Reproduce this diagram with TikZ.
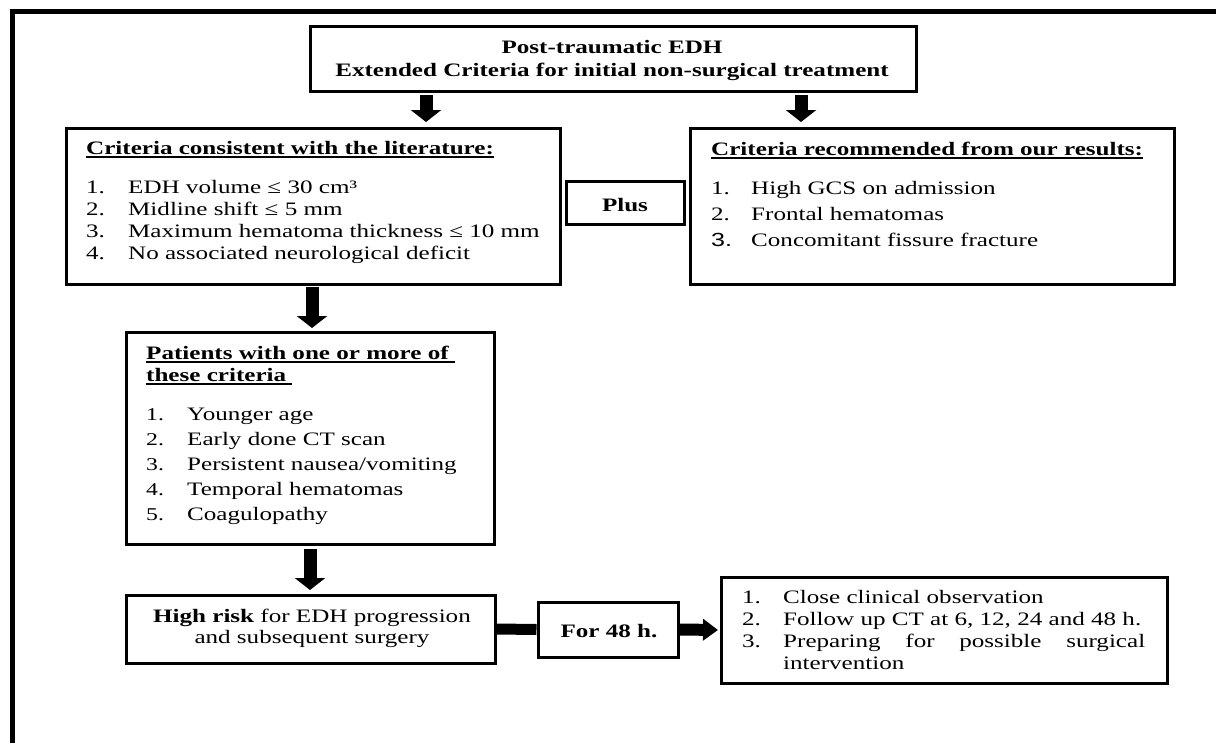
\documentclass[tikz,border=0pt]{standalone}
\usepackage{fontspec}
\setmainfont{Liberation Serif}[FakeStretch=1.32]
\newfontfamily\arialthree{Liberation Sans}[FakeStretch=1.32]
\usetikzlibrary{arrows.meta}
\newcommand\myul[1]{\setbox0\hbox{#1}\rlap{\rule[-3.5pt]{\wd0}{1.8pt}}\box0}
\begin{document}
\begin{tikzpicture}[x=1pt,y=-1pt,
  box/.style={draw, line width=3pt, inner sep=0pt},
  txt/.style={inner sep=0pt, anchor=base west, font=\fontsize{19}{22}\selectfont},
  btxt/.style={inner sep=0pt, anchor=base west, font=\fontsize{19}{22}\selectfont\bfseries},
  ctxt/.style={txt, anchor=base},
  cbtxt/.style={btxt, anchor=base},
  smalln/.style={inner sep=0pt, anchor=base west, font=\fontsize{18}{20}\selectfont},
  varrow/.style={line width=13pt, -{Triangle[width=30pt,length=12pt]}},
  harrow/.style={line width=12pt, -{Triangle[width=21pt,length=15pt]}},
  bar/.style={line width=11pt}
]
\useasboundingbox (0,0) rectangle (1216,742);
\fill[white] (0,0) rectangle (1216,742);
% outer frame (top and left visible)
\draw[line width=5pt] (1220,11) -- (12,11) -- (12,746);

% boxes
\node[box, minimum width=606pt, minimum height=65pt]  (title) at (613,58.5) {};
\node[box, minimum width=494pt, minimum height=156pt] (lit)   at (313,206)  {};
\node[box, minimum width=118pt, minimum height=43pt]  (plus)  at (625,202.5) {};
\node[box, minimum width=484pt, minimum height=156pt] (res)   at (932,206)  {};
\node[box, minimum width=368pt, minimum height=212pt] (pat)   at (310,438)  {};
\node[box, minimum width=369pt, minimum height=68pt]  (risk)  at (310.5,629) {};
\node[box, minimum width=140pt, minimum height=55pt]  (for)   at (608,629.5) {};
\node[box, minimum width=446pt, minimum height=106pt] (obs)   at (944,630)  {};

% title text
\node[cbtxt] (t1) at (612,53) {Post-traumatic EDH};
\node[cbtxt] (t2) at (612,76) {Extended Criteria for initial non-surgical treatment};

% literature criteria
\node[btxt] (lith) at (86,154) {\myul{Criteria consistent with the literature:}};
\node[txt] (l1n) at (86,193) {1.};
\node[txt] (l1)  at (128,193) {EDH volume ≤ 30 cm³};
\node[txt] (l2n) at (86,215) {2.};
\node[txt] (l2)  at (128,215) {Midline shift ≤ 5 mm};
\node[txt] (l3n) at (86,237) {3.};
\node[txt] (l3)  at (128,237) {Maximum hematoma thickness ≤ 10 mm};
\node[txt] (l4n) at (86,259) {4.};
\node[txt] (l4)  at (128,259) {No associated neurological deficit};

% plus
\node[cbtxt] (plust) at (625,211) {Plus};

% recommended criteria
\node[btxt] (resh) at (711,155) {\myul{Criteria recommended from our results:}};
\node[txt] (r1n) at (711,194) {1.};
\node[txt] (r1)  at (751,194) {High GCS on admission};
\node[txt] (r2n) at (711,220) {2.};
\node[txt] (r2)  at (751,220) {Frontal hematomas};
\node[txt] (r3n) at (711,246) {\arialthree 3.};
\node[txt] (r3)  at (751,246) {Concomitant fissure fracture};

% patients criteria
\node[btxt] (path1) at (146,359) {\myul{Patients with one or more of\ }};
\node[btxt] (path2) at (146,381) {\myul{these criteria\ }};
\node[smalln] (p1n) at (146,420) {1.};
\node[txt] (p1)  at (187,420) {Younger age};
\node[smalln] (p2n) at (146,445) {2.};
\node[txt] (p2)  at (187,445) {Early done CT scan};
\node[smalln] (p3n) at (146,470) {3.};
\node[txt] (p3)  at (187,470) {Persistent nausea/vomiting};
\node[smalln] (p4n) at (146,495) {4.};
\node[txt] (p4)  at (187,495) {Temporal hematomas};
\node[smalln] (p5n) at (146,520) {5.};
\node[txt] (p5)  at (187,520) {Coagulopathy};

% high risk
\node[ctxt] (k1) at (312,622) {\textbf{High risk} for EDH progression};
\node[ctxt] (k2) at (312,643) {and subsequent surgery};

% for 48 h
\node[cbtxt] (fort) at (609,637) {For 48 h.};

% observation
\node[txt] (o1n) at (742,603) {1.};
\node[txt] (o1)  at (783,603) {Close clinical observation};
\node[txt] (o2n) at (742,625) {2.};
\node[txt] (o2)  at (783,625) {Follow up CT at 6, 12, 24 and 48 h.};
\node[txt] (o3n) at (742,647) {3.};
\node[txt] (o3)  at (783,647) {\makebox[362pt][s]{Preparing for possible surgical}};
\node[txt] (o4)  at (783,669) {intervention};

% arrow positions
\coordinate (ax1) at (426,0);
\coordinate (ax2) at (801,0);
\coordinate (ax3) at (312,0);
\coordinate (ax4) at (310,0);

\draw[varrow, shorten <=2.5pt, shorten >=4.5pt] (title.south -| ax1) -- (lit.north -| ax1);
\draw[varrow, shorten <=2.5pt, shorten >=4.5pt] (title.south -| ax2) -- (res.north -| ax2);
\draw[varrow, shorten <=1.5pt, shorten >=2.5pt] (lit.south -| ax3) -- (pat.north -| ax3);
\draw[varrow, shorten <=3.5pt, shorten >=3.5pt] (pat.south -| ax4) -- (risk.north -| ax4);
\draw[bar] (risk.east) -- (for.west);
\draw[harrow, shorten >=1.5pt] (for.east) -- (obs.west);
\end{tikzpicture}
\end{document}
